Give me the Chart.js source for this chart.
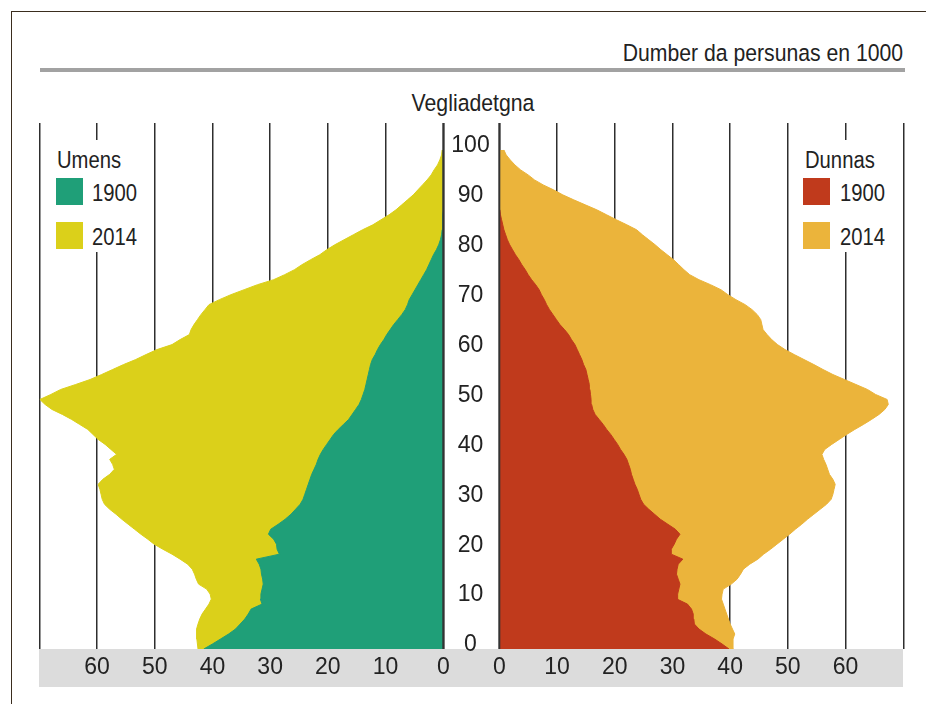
<!DOCTYPE html>
<html>
<head>
<meta charset="utf-8">
<script src="https://cdn.jsdelivr.net/npm/chart.js@4.4.1/dist/chart.umd.min.js"></script>
<style>
  body { margin: 0; background: #fff; width: 926px; height: 704px; overflow: hidden; position: relative;
         font-family: "Liberation Sans", Arial, sans-serif; color: #222; }
  #frame { position: absolute; left: 11px; top: 11px; width: 1000px; height: 1000px; border: 1.5px solid #3a2d1e; }
  #title { position: absolute; right: 23px; top: 41px; font-size: 24.5px; line-height: 24.5px; white-space: nowrap;
           transform: scaleX(0.865); transform-origin: right center; }
  #rule { position: absolute; left: 40px; top: 68px; width: 865px; height: 4px; background: #a2a2a2; }
  #agelabel { position: absolute; left: 373px; width: 200px; top: 91px; text-align: center; font-size: 24.5px; line-height: 24.5px;
              transform: scaleX(0.867); transform-origin: center center; }
  #band { position: absolute; left: 39px; top: 649px; width: 864px; height: 38px; background: #dcdcdc; }
  canvas { position: absolute; left: 0; top: 0; }
  .legend { position: absolute; top: 140px; height: 112px; background: #fff; }
  .legend .head, .legend .item { position: absolute; font-size: 23px; line-height: 23px; white-space: nowrap;
                                 transform: scaleX(0.88); transform-origin: left center; }
  .legend .box { position: absolute; width: 27px; height: 27px; }
</style>
</head>
<body>
<div id="frame"></div>
<div id="title">Dumber da persunas en 1000</div>
<div id="rule"></div>
<div id="agelabel">Vegliadetgna</div>
<div id="band"></div>
<canvas id="men-chart" width="926" height="704"></canvas>
<canvas id="women-chart" width="926" height="704"></canvas>
<div class="legend" id="legend-men" style="left:48px;width:97px;"></div>
<div class="legend" id="legend-women" style="left:797px;width:99px;"></div>
<script>
const ages = Array.from({length: 101}, (_, i) => i);
const ageTicks = [0, 10, 20, 30, 40, 50, 60, 70, 80, 90, 100];
const valueTicks = [0, 10, 20, 30, 40, 50, 60];
const years = ['1900', '2014'];

// Umens (left side), persunas en 1000 per onn da vegliadetgna
const men1900 = [
  41.5, 40.0, 38.6, 37.2, 36.0, 35.2, 34.4, 33.8, 33.3, 31.4,
  31.7, 31.6, 31.4, 31.2, 31.3, 31.5, 31.6, 31.9, 32.4, 28.4,
  28.8, 28.9, 29.4, 30.3, 29.9, 28.6, 27.4, 26.4, 25.6, 24.8,
  24.3, 24.0, 23.7, 23.4, 23.1, 22.8, 22.4, 22.0, 21.7, 21.3,
  20.8, 20.2, 19.6, 19.0, 18.2, 17.3, 16.4, 15.8, 15.2, 14.6,
  14.2, 13.9, 13.6, 13.4, 13.2, 13.0, 12.8, 12.6, 12.3, 11.8,
  11.4, 10.9, 10.3, 9.8, 9.2, 8.6, 7.9, 7.2, 6.6, 6.2,
  5.9, 5.4, 4.9, 4.4, 3.9, 3.4, 2.9, 2.5, 2.1, 1.7,
  1.2, 0.8, 0.5, 0.3, 0.2, 0.1, 0.1, 0.1, 0, 0,
  0, 0, 0, 0, 0, 0, 0, 0, 0, 0, 0
];
const men2014 = [
  42.5, 42.6, 42.7, 42.8, 42.7, 42.5, 42.2, 41.8, 41.2, 40.6,
  40.2, 40.4, 41.0, 42.4, 42.8, 43.1, 43.5, 44.3, 45.6, 47.0,
  48.6, 50.1, 51.2, 52.4, 53.5, 54.6, 55.7, 56.7, 57.8, 58.7,
  59.1, 59.3, 59.5, 59.8, 59.0, 57.8, 57.0, 57.3, 57.8, 56.6,
  57.6, 58.6, 59.8, 60.7, 61.6, 63.0, 64.4, 66.0, 67.8, 69.0,
  69.9, 68.0, 66.3, 63.7, 61.2, 59.2, 57.3, 55.4, 53.3, 51.5,
  49.6, 47.0, 45.6, 44.0, 43.7, 43.2, 42.6, 42.0, 41.3, 40.6,
  38.8, 36.8, 34.5, 32.2, 29.4, 27.5, 25.8, 24.5, 23.0, 21.4,
  20.2, 18.8, 17.2, 15.6, 14.0, 12.2, 10.8, 9.4, 8.2, 7.2,
  6.2, 5.2, 4.4, 3.6, 2.8, 2.1, 1.6, 1.0, 0.6, 0.3, 0.2
];
// Dunnas (right side)
const women1900 = [
  39.8, 38.6, 37.3, 35.8, 34.6, 33.8, 33.7, 33.6, 33.3, 32.6,
  30.8, 30.9, 31.1, 31.3, 31.0, 30.7, 30.8, 31.0, 31.8, 29.8,
  29.8, 30.3, 30.7, 31.3, 30.5, 29.2, 27.9, 26.9, 25.9, 25.0,
  24.5, 24.2, 23.9, 23.5, 23.2, 22.9, 22.7, 22.4, 22.1, 21.6,
  21.0, 20.5, 19.9, 19.3, 18.6, 18.0, 17.3, 16.6, 16.2, 16.0,
  15.9, 15.8, 15.7, 15.6, 15.4, 15.2, 15.0, 14.6, 14.3, 13.9,
  13.5, 13.1, 12.5, 12.0, 11.3, 10.5, 9.9, 9.3, 8.7, 8.2,
  7.8, 7.3, 6.9, 6.3, 5.6, 5.0, 4.5, 3.9, 3.4, 2.8,
  2.3, 1.8, 1.4, 1.1, 0.8, 0.6, 0.4, 0.2, 0.1, 0,
  0, 0, 0, 0, 0, 0, 0, 0, 0, 0, 0
];
const women2014 = [
  40.6, 40.5, 40.5, 40.8, 40.4, 40.0, 39.7, 39.4, 39.1, 38.8,
  38.5, 38.6, 38.8, 40.2, 41.2, 41.8, 42.3, 43.4, 44.8, 45.8,
  47.0, 48.1, 49.2, 50.3, 51.3, 52.4, 53.4, 54.5, 55.6, 56.7,
  57.5, 57.8, 58.0, 58.2, 57.8, 57.2, 56.9, 56.6, 56.2, 55.9,
  56.4, 57.6, 58.9, 60.2, 61.6, 63.1, 64.5, 65.8, 66.8, 67.4,
  67.2, 65.2, 63.8, 61.8, 59.8, 57.8, 56.1, 54.5, 52.8, 51.1,
  49.5, 48.2, 47.2, 46.4, 45.7, 45.5, 45.3, 44.7, 43.8, 42.6,
  41.0, 39.6, 38.4, 36.6, 34.6, 33.0, 32.0, 31.1, 30.2, 29.1,
  28.0, 27.0, 25.9, 24.8, 23.8, 22.1, 20.3, 18.6, 16.9, 14.9,
  12.9, 11.0, 9.4, 7.6, 6.1, 5.0, 3.7, 2.7, 1.9, 1.2, 0.8
];

const menColors = ['#1f9f78', '#dbd01a'];
const womenColors = ['#c03a1c', '#ebb43b'];
const FONT = '"Liberation Sans", Arial, sans-serif';

function toPoints(values) {
  return values.map((v, i) => ({x: v, y: ages[i]}));
}

// dark zero line drawn over the filled areas
const zeroLine = {
  id: 'zeroLine',
  afterDatasetsDraw(chart) {
    const ctx = chart.ctx;
    const area = chart.chartArea;
    const x = chart.scales.x.getPixelForValue(0);
    ctx.save();
    ctx.strokeStyle = '#333';
    ctx.lineWidth = 2;
    ctx.beginPath();
    ctx.moveTo(x, area.top);
    ctx.lineTo(x, area.bottom);
    ctx.stroke();
    ctx.restore();
  }
};

function makeChart(canvasId, series, colors, left) {
  return new Chart(document.getElementById(canvasId), {
    type: 'line',
    data: {
      datasets: [
        { label: years[0], data: toPoints(series[0]), backgroundColor: colors[0], borderColor: colors[0], fill: 'origin' },
        { label: years[1], data: toPoints(series[1]), backgroundColor: colors[1], borderColor: colors[1], fill: 'origin' }
      ]
    },
    options: {
      responsive: false,
      animation: false,
      indexAxis: 'y',
      layout: {
        padding: left
          ? {left: 39.3, right: 426.7, top: 123, bottom: 17}
          : {left: 499.3, right: 22.7, top: 123, bottom: 17}
      },
      elements: {
        point: {radius: 0},
        line: {tension: 0, borderWidth: 1}
      },
      plugins: {
        legend: {display: false},
        tooltip: {enabled: false}
      },
      scales: {
        x: {
          type: 'linear',
          reverse: left,
          min: 0,
          max: 70,
          grid: {color: '#2e2e2e', lineWidth: 1.5, drawTicks: false},
          border: {display: false},
          ticks: {
            stepSize: 10,
            autoSkip: false,
            maxRotation: 0,
            padding: 5,
            color: '#222',
            font: {family: FONT, size: 23},
            callback: v => valueTicks.includes(v) ? v : ''
          },
          afterFit: s => { s.height = 38; }
        },
        y: {
          type: 'linear',
          display: left,
          position: 'right',
          min: 0,
          max: 105.4,
          grid: {display: false},
          border: {display: false},
          ticks: {
            stepSize: 10,
            includeBounds: false,
            autoSkip: false,
            crossAlign: 'center',
            padding: 0,
            labelOffset: -4,
            color: '#222',
            font: {family: FONT, size: 23},
            callback: v => ageTicks.includes(v) ? v : ''
          },
          afterFit: s => { if (left) s.width = 56; }
        }
      }
    },
    plugins: [zeroLine]
  });
}

makeChart('men-chart', [men1900, men2014], menColors, true);
makeChart('women-chart', [women1900, women2014], womenColors, false);

function buildLegend(id, title, colors, boxLeft, textLeft) {
  const el = document.getElementById(id);
  let html = '<div class="head" style="left:' + textLeft.head + 'px;top:8.5px;">' + title + '</div>';
  years.forEach((y, i) => {
    const top = 38.3 + i * 43.4;
    html += '<div class="box" style="left:' + boxLeft + 'px;top:' + top + 'px;background:' + colors[i] + ';"></div>';
    html += '<div class="item" style="left:' + textLeft.item + 'px;top:' + (top + 4) + 'px;">' + y + '</div>';
  });
  el.innerHTML = html;
}
buildLegend('legend-men', 'Umens', menColors, 8, {head: 8.7, item: 43.7});
buildLegend('legend-women', 'Dunnas', womenColors, 6.3, {head: 8, item: 43});
</script>
</body>
</html>
